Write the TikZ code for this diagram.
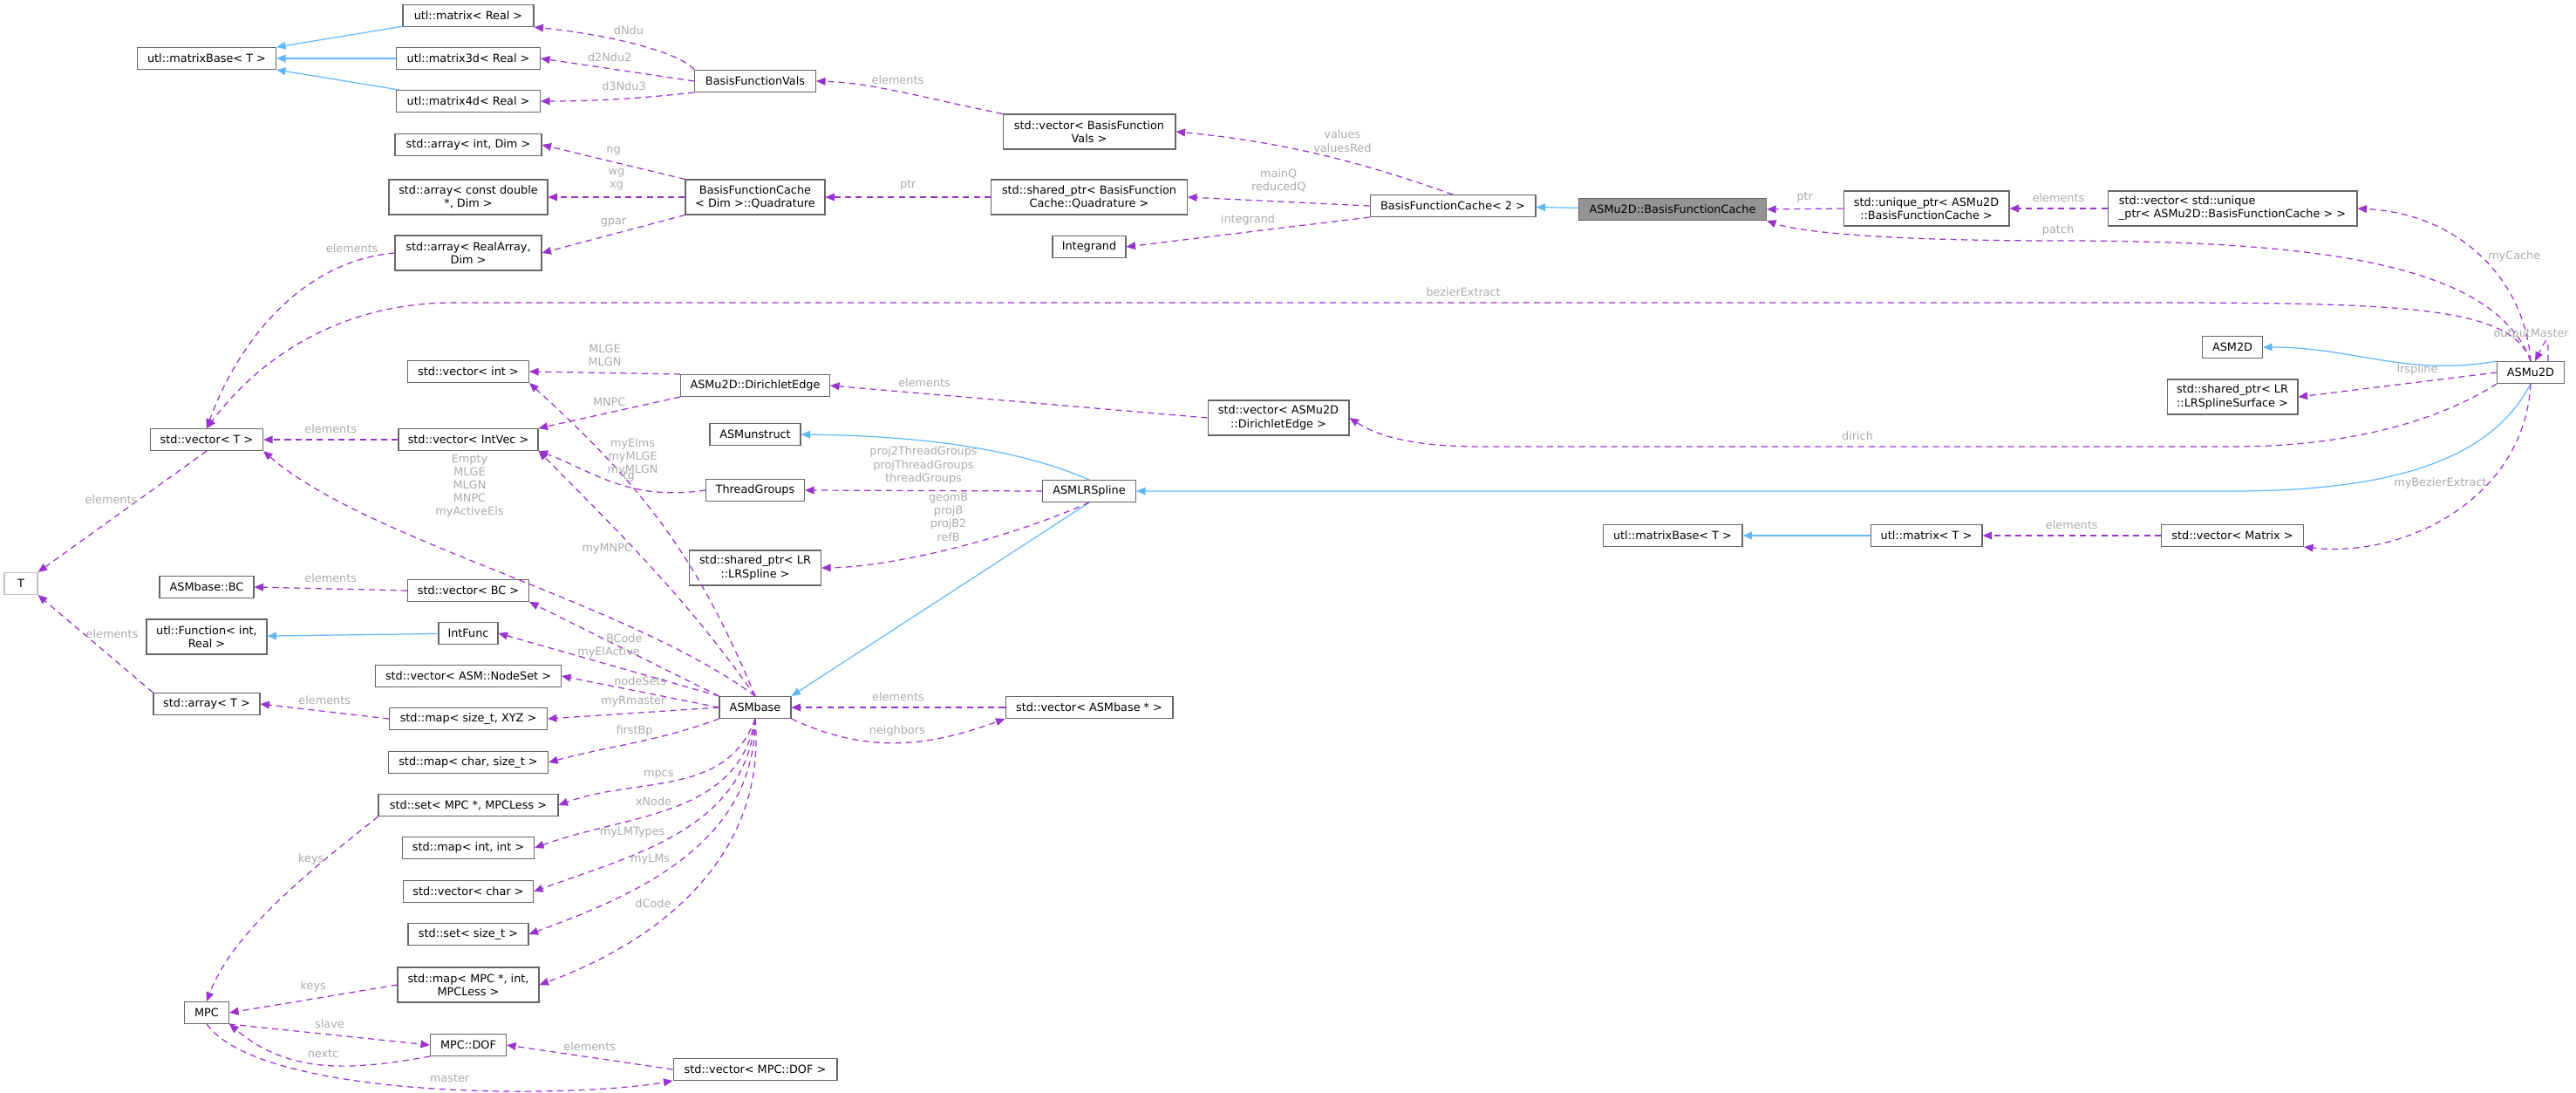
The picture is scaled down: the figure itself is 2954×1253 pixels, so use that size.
\documentclass[tikz,border=0pt]{standalone}
\usepackage{fontspec}
\setmainfont{DejaVu Sans}
\usetikzlibrary{arrows.meta,positioning}
\definecolor{depcol}{HTML}{9A32CD}
\definecolor{inhcol}{HTML}{63B8FF}
\definecolor{lblcol}{HTML}{AAAAAA}
\tikzstyle{box} = [draw=black!60, fill=white, line width=0.6pt, minimum height=0.5cm, inner sep=1pt, align=center, text=black]
\tikzstyle{box2} = [box, minimum height=0.8cm]
\tikzstyle{dep} = [draw=depcol, dashed, line width=0.7pt, dash pattern=on 4pt off 3pt, -{Triangle[length=6pt,width=5pt]}]
\tikzstyle{inh} = [draw=inhcol, line width=0.7pt, -{Triangle[length=6pt,width=5pt]}]
\tikzstyle{lbl} = [text=lblcol, align=center, inner sep=1pt, font=\fontsize{7.3}{8.6}\selectfont]

\begin{document}
\begin{tikzpicture}[x=0.02cm, y=-0.02cm] \fontsize{7.3}{8.6}\selectfont
    \useasboundingbox (0,0) rectangle (2954,1253);
    % matrices and basis function values
    \node at (237,67) [box, minimum width=3.18cm] (mb1) {utl::matrixBase< T >};
    \node at (537,18) [box, minimum width=3.0cm] (mreal) {utl::matrix< Real >};
    \node at (537,67) [box, minimum width=3.3cm] (m3d) {utl::matrix3d< Real >};
    \node at (537,116) [box, minimum width=3.3cm] (m4d) {utl::matrix4d< Real >};
    \node at (866,93) [box, minimum width=2.78cm] (bfv) {BasisFunctionVals};
    \node at (537,166) [box, minimum width=3.36cm] (arrint) {std::array< int, Dim >};
    \node at (537,226) [box2, minimum width=3.64cm] (arrcd) {std::array< const double\\*, Dim >};
    \node at (537,290) [box2, minimum width=3.36cm] (arrra) {std::array< RealArray,\\Dim >};
    \node at (866,226) [box2, minimum width=3.2cm] (quad) {BasisFunctionCache\\< Dim >::Quadrature};
    \node at (1249,151) [box2, minimum width=3.96cm] (vbfv) {std::vector< BasisFunction\\Vals >};
    \node at (1249,226) [box2, minimum width=4.5cm] (spq) {std::shared\_ptr< BasisFunction\\Cache::Quadrature >};
    \node at (1249,283) [box, minimum width=1.68cm] (integrand) {Integrand};
    \node at (1666,236) [box, minimum width=3.8cm] (bfc2) {BasisFunctionCache< 2 >};
    \node at (1918,240) [box, minimum width=4.3cm, fill=black!42] (main) {ASMu2D::BasisFunctionCache};
    \node at (2209,239) [box2, minimum width=3.8cm] (uptr) {std::unique\_ptr< ASMu2D\\::BasisFunctionCache >};
    \node at (2560,239) [box2, minimum width=5.72cm, align=left] (vuptr) {std::vector< std::unique\\\_ptr< ASMu2D::BasisFunctionCache > >};
    \node at (2560,398) [box, minimum width=1.38cm] (asm2d) {ASM2D};
    \node at (2560,455) [box2, minimum width=3.0cm] (lrsurf) {std::shared\_ptr< LR\\::LRSplineSurface >};
    \node at (2902,427) [box, minimum width=1.54cm] (asmu2d) {ASMu2D};
    % index vectors and ASMbase
    \node at (537,426) [box, minimum width=2.78cm] (vint) {std::vector< int >};
    \node at (866,442) [box, minimum width=3.42cm] (dedge) {ASMu2D::DirichletEdge};
    \node at (1466,479) [box2, minimum width=3.24cm] (vdedge) {std::vector< ASMu2D\\::DirichletEdge >};
    \node at (237,504) [box, minimum width=2.58cm] (vT) {std::vector< T >};
    \node at (537,504) [box, minimum width=3.2cm] (vintvec) {std::vector< IntVec >};
    \node at (866,498) [box, minimum width=2.08cm] (asmun) {ASMunstruct};
    \node at (866,562) [box, minimum width=2.26cm] (tg) {ThreadGroups};
    \node at (1249,563) [box, minimum width=2.14cm] (asmlr) {ASMLRSpline};
    \node at (866,651) [box2, minimum width=3.02cm] (splr) {std::shared\_ptr< LR\\::LRSpline >};
    \node at (24,669) [box, draw=black!25, minimum width=0.76cm] (T) {T};
    \node at (237,673) [box, minimum width=2.16cm] (bc) {ASMbase::BC};
    \node at (537,677) [box, minimum width=2.78cm] (vbc) {std::vector< BC >};
    \node at (237,730) [box2, minimum width=2.76cm] (func) {utl::Function< int,\\Real >};
    \node at (537,726) [box, minimum width=1.36cm] (intfunc) {IntFunc};
    \node at (537,775) [box, minimum width=4.26cm] (vns) {std::vector< ASM::NodeSet >};
    \node at (237,807) [box, minimum width=2.44cm] (arrT) {std::array< T >};
    \node at (537,824) [box, minimum width=3.62cm] (mapxyz) {std::map< size\_t, XYZ >};
    \node at (866,811) [box, minimum width=1.64cm] (asmbase) {ASMbase};
    \node at (1249,811) [box, minimum width=3.84cm] (vasmb) {std::vector< ASMbase * >};
    \node at (1918,614) [box, minimum width=3.2cm] (mb2) {utl::matrixBase< T >};
    \node at (2209,614) [box, minimum width=2.56cm] (mT) {utl::matrix< T >};
    \node at (2560,614) [box, minimum width=3.26cm] (vmat) {std::vector< Matrix >};
    \node at (537,874) [box, minimum width=3.66cm] (mapcs) {std::map< char, size\_t >};
    \node at (537,923) [box, minimum width=4.12cm] (setmpc) {std::set< MPC *, MPCLess >};
    \node at (537,972) [box, minimum width=3.02cm] (mapii) {std::map< int, int >};
    \node at (537,1022) [box, minimum width=2.98cm] (vchar) {std::vector< char >};
    \node at (537,1071) [box, minimum width=2.76cm] (setst) {std::set< size\_t >};
    \node at (537,1129) [box2, minimum width=3.24cm] (mapmpc) {std::map< MPC *, int,\\MPCLess >};
    \node at (237,1161) [box, minimum width=1.02cm] (mpc) {MPC};
    \node at (537,1198) [box, minimum width=1.74cm] (dof) {MPC::DOF};
    \node at (866,1226) [box, minimum width=3.76cm] (vdof) {std::vector< MPC::DOF >};

    % inheritance
    \draw[inh] (mreal) -- (mb1.north east);
    \draw[inh] (m3d) -- (mb1);
    \draw[inh] (m4d) -- (mb1.south east);
    \draw[inh] (main) -- (bfc2);
    \draw[inh] (asmu2d.north west) to[out=190,in=0] (asm2d);
    \draw[inh] (asmu2d.south) .. controls (2860,520) and (2760,563) .. (2560,563) -- (asmlr.east);
    \draw[inh] (asmlr.north) .. controls (1180,520) and (1080,500) .. (asmun.east);
    \draw[inh] (asmlr.south) -- (asmbase.north east);
    \draw[inh] (intfunc) -- (func);
    \draw[inh] (mT) -- (mb2);

    % members
    \draw[dep] (bfv.north west) .. controls (780,60) and (700,40) .. node[lbl, pos=0.55, above=4pt] {dNdu} (mreal.south east);
    \draw[dep] (bfv.west) -- node[lbl, pos=0.55, above=3pt] {d2Ndu2} (m3d.east);
    \draw[dep] (bfv.south west) .. controls (760,110) and (700,116) .. node[lbl, pos=0.55, above=4pt] {d3Ndu3} (m4d.east);
    \draw[dep] (vbfv.north west) .. controls (1050,110) and (1000,95) .. node[lbl, pos=0.5, above=3pt] {elements} (bfv.east);
    \draw[dep] (quad.north west) -- node[lbl, above=3pt] {ng} (arrint.east);
    \draw[dep] (quad.west) -- node[lbl, above=3pt] {wg\\xg} (arrcd.east);
    \draw[dep] (quad.south west) -- node[lbl, above=3pt] {gpar} (arrra.east);
    \draw[dep] (spq.west) -- node[lbl, above=3pt] {ptr} (quad.east);
    \draw[dep] (bfc2.north) .. controls (1600,200) and (1500,165) .. node[lbl, pos=0.5, above=4pt] {values\\valuesRed} (vbfv.east);
    \draw[dep] (bfc2.west) -- node[lbl, above=5pt] {mainQ\\reducedQ} (spq.east);
    \draw[dep] (bfc2.south west) -- node[lbl, above=3pt] {integrand} (integrand.east);
    \draw[dep] (uptr.west) -- node[lbl, above=3pt] {ptr} (main.east);
    \draw[dep] (vuptr.west) -- node[lbl, above=3pt] {elements} (uptr.east);
    \draw[dep] (asmu2d.north) .. controls (2895,320) and (2820,245) .. node[lbl, pos=0.5, right=4pt] {myCache} (vuptr.east);
    \draw[dep] (asmu2d.north) .. controls (2860,300) and (2650,276) .. (2360,276) node[lbl, above=2pt] {patch} .. controls (2150,276) and (2060,265) .. (main.south east);
    \draw[dep] (asmu2d.north) .. controls (2880,350) and (2750,347) .. (2450,347) -- node[lbl, pos=0.4, above=3pt] {bezierExtract} (520,347) .. controls (380,347) and (290,420) .. (vT.north);
    \draw[dep] ([xshift=0.4cm]asmu2d.north) .. controls +(0,0.6cm) and +(0.3cm,0.6cm) .. node[lbl, pos=0.5, above, xshift=-0.35cm] {outputMaster} ([xshift=0.1cm]asmu2d.north);
    \draw[dep] (asmu2d.west) -- node[lbl, above=3pt, pos=0.4] {lrspline} (lrsurf.east);
    \draw[dep] (asmu2d.south west) .. controls (2800,480) and (2700,512) .. (2560,512) -- node[lbl, above=3pt, pos=0.5] {dirich} (1700,512) .. controls (1620,512) and (1580,500) .. (vdedge.east);
    \draw[dep] (asmu2d.south) .. controls (2895,570) and (2760,640) .. node[lbl, pos=0.35, left] {myBezierExtract} (vmat.south east);
    \draw[dep] (vmat.west) -- node[lbl, above=3pt] {elements} (mT.east);
    \draw[dep] (vdedge.west) -- node[lbl, above=3pt, pos=0.75] {elements} (dedge.east);
    \draw[dep] (dedge.north west) -- node[lbl, above=3pt] {MLGE\\MLGN} (vint.east);
    \draw[dep] (dedge.south west) -- node[lbl, above=3pt] {MNPC} (vintvec.north east);
    \draw[dep] (vintvec.west) -- node[lbl, above=3pt] {elements} (vT.east);
    \draw[dep] (arrra.west) .. controls (340,300) and (270,400) .. node[lbl, pos=0.05, above left] {elements} (vT.north);
    \draw[dep] (vT.south) -- node[lbl, pos=0.4, left] {elements} (T.north east);
    \draw[dep] (arrT.north west) -- node[lbl, pos=0.6, right] {elements} (T.south east);
    \draw[dep] (asmbase.north) .. controls (800,640) and (740,560) .. node[lbl, pos=0.75, right] {myElms\\myMLGE\\myMLGN} (vint.south east);
    \draw[dep] (asmbase.north) .. controls (790,690) and (720,620) .. node[lbl, pos=0.6, left] {myMNPC} (vintvec.south east);
    \draw[dep] (tg.west) .. controls (720,575) and (680,540) .. node[lbl, pos=0.4, above=2pt] {tg} (vintvec.south east);
    \draw[dep] (asmbase.north) .. controls (720,690) and (420,620) .. node[lbl, pos=0.5, anchor=south, xshift=-0.7cm, yshift=1.2cm] {Empty\\MLGE\\MLGN\\MNPC\\myActiveEls} (vT.south east);
    \draw[dep] (asmlr.west) -- node[lbl, above=3pt] {proj2ThreadGroups\\projThreadGroups\\threadGroups} (tg.east);
    \draw[dep] (asmlr.south) .. controls (1150,620) and (1020,650) .. node[lbl, pos=0.5, above=4pt] {geomB\\projB\\projB2\\refB} (splr.east);
    \draw[dep] (vbc.west) -- node[lbl, above=3pt] {elements} (bc.east);
    \draw[dep] (asmbase.north west) -- node[lbl, above=3pt] {BCode} (vbc.south east);
    \draw[dep] (asmbase.north west) -- node[lbl, above=3pt] {myElActive} (intfunc.east);
    \draw[dep] (asmbase.west) -- node[lbl, above=3pt] {nodeSets} (vns.east);
    \draw[dep] (asmbase.west) -- node[lbl, above=3pt] {myRmaster} (mapxyz.east);
    \draw[dep] (mapxyz.west) -- node[lbl, above=3pt] {elements} (arrT.east);
    \draw[dep] (asmbase.south west) to[out=200,in=15] node[lbl, pos=0.5, above=3pt] {firstBp} (mapcs.east);
    \draw[dep] (asmbase.south) to[out=250,in=20] node[lbl, pos=0.5, above left] {mpcs} (setmpc.east);
    \draw[dep] (asmbase.south) to[out=260,in=20] node[lbl, pos=0.5, above left] {xNode} (mapii.east);
    \draw[dep] (asmbase.south) to[out=265,in=20] node[lbl, pos=0.55, above left] {myLMTypes} (vchar.east);
    \draw[dep] (asmbase.south) to[out=270,in=20] node[lbl, pos=0.55, above left] {myLMs} (setst.east);
    \draw[dep] (asmbase.south) to[out=275,in=20] node[lbl, pos=0.6, above left] {dCode} (mapmpc.east);
    \draw[dep] (vasmb.west) -- node[lbl, above=3pt] {elements} (asmbase.east);
    \draw[dep] (asmbase.south east) to[out=-25,in=200] node[lbl, pos=0.5, above=3pt] {neighbors} (vasmb.south west);
    \draw[dep] (setmpc.south west) .. controls (380,980) and (270,1060) .. node[lbl, pos=0.3, left] {keys} (mpc.north);
    \draw[dep] (mapmpc.west) -- node[lbl, above=3pt] {keys} (mpc.east);
    \draw[dep] (mpc.south east) -- node[lbl, above=3pt] {slave} (dof.west);
    \draw[dep] (dof.south west) to[out=190,in=-40] node[lbl, pos=0.5, above=3pt] {nextc} (mpc.south east);
    \draw[dep] (vdof.west) -- node[lbl, above=3pt] {elements} (dof.east);
    \draw[dep] (mpc.south) .. controls (300,1260) and (650,1260) .. node[lbl, pos=0.55, above=3pt] {master} (vdof.south west);
\end{tikzpicture}
\end{document}
